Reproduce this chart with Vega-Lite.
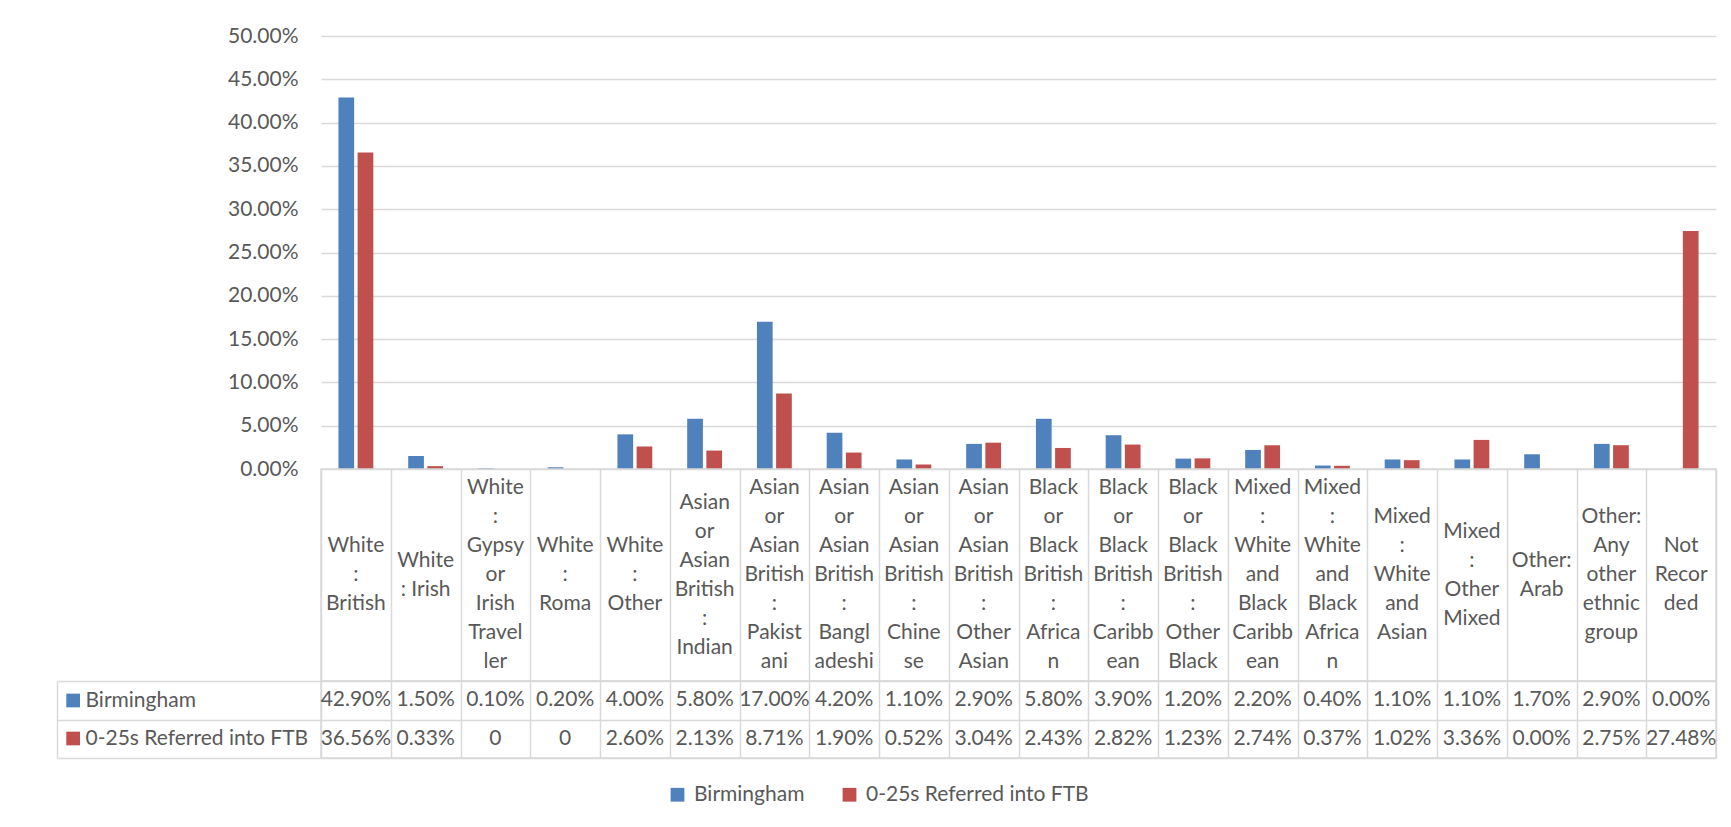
{
  "$schema": "https://vega.github.io/schema/vega-lite/v6.json",
  "bounds": "flush",
  "spacing": 0,
  "padding": {"left": 55, "top": 25, "right": 5, "bottom": 5},
  "config": {
    "font": "Lato",
    "view": {"stroke": null},
    "axis": {"labelFont": "Lato", "labelColor": "#595959", "labelFontSize": 21}
  },
  "datasets": {
    "cats": [
      {"cat": "White: British", "lines": "White|:|British"},
      {"cat": "White: Irish", "lines": "White|: Irish"},
      {"cat": "White: Gypsy or Irish Traveller", "lines": "White|:|Gypsy|or|Irish|Travel|ler"},
      {"cat": "White: Roma", "lines": "White|:|Roma"},
      {"cat": "White: Other", "lines": "White|:|Other"},
      {"cat": "Asian or Asian British: Indian", "lines": "Asian|or|Asian|British|:|Indian"},
      {"cat": "Asian or Asian British: Pakistani", "lines": "Asian|or|Asian|British|:|Pakist|ani"},
      {"cat": "Asian or Asian British: Bangladeshi", "lines": "Asian|or|Asian|British|:|Bangl|adeshi"},
      {"cat": "Asian or Asian British: Chinese", "lines": "Asian|or|Asian|British|:|Chine|se"},
      {"cat": "Asian or Asian British: Other Asian", "lines": "Asian|or|Asian|British|:|Other|Asian"},
      {"cat": "Black or Black British: African", "lines": "Black|or|Black|British|:|Africa|n"},
      {"cat": "Black or Black British: Caribbean", "lines": "Black|or|Black|British|:|Caribb|ean"},
      {"cat": "Black or Black British: Other Black", "lines": "Black|or|Black|British|:|Other|Black"},
      {"cat": "Mixed: White and Black Caribbean", "lines": "Mixed|:|White|and|Black|Caribb|ean"},
      {"cat": "Mixed: White and Black African", "lines": "Mixed|:|White|and|Black|Africa|n"},
      {"cat": "Mixed: White and Asian", "lines": "Mixed|:|White|and|Asian"},
      {"cat": "Mixed: Other Mixed", "lines": "Mixed|:|Other|Mixed"},
      {"cat": "Other: Arab", "lines": "Other:|Arab"},
      {"cat": "Other: Any other ethnic group", "lines": "Other:|Any|other|ethnic|group"},
      {"cat": "Not Recorded", "lines": "Not|Recor|ded"}
    ],
    "vals": [
      {"cat": "White: British", "series": "Birmingham", "value": 0.429, "shown": "42.90%"},
      {"cat": "White: British", "series": "0-25s Referred into FTB", "value": 0.3656, "shown": "36.56%"},
      {"cat": "White: Irish", "series": "Birmingham", "value": 0.015, "shown": "1.50%"},
      {"cat": "White: Irish", "series": "0-25s Referred into FTB", "value": 0.0033, "shown": "0.33%"},
      {"cat": "White: Gypsy or Irish Traveller", "series": "Birmingham", "value": 0.001, "shown": "0.10%"},
      {"cat": "White: Gypsy or Irish Traveller", "series": "0-25s Referred into FTB", "value": 0, "shown": "0"},
      {"cat": "White: Roma", "series": "Birmingham", "value": 0.002, "shown": "0.20%"},
      {"cat": "White: Roma", "series": "0-25s Referred into FTB", "value": 0, "shown": "0"},
      {"cat": "White: Other", "series": "Birmingham", "value": 0.04, "shown": "4.00%"},
      {"cat": "White: Other", "series": "0-25s Referred into FTB", "value": 0.026, "shown": "2.60%"},
      {"cat": "Asian or Asian British: Indian", "series": "Birmingham", "value": 0.058, "shown": "5.80%"},
      {"cat": "Asian or Asian British: Indian", "series": "0-25s Referred into FTB", "value": 0.0213, "shown": "2.13%"},
      {"cat": "Asian or Asian British: Pakistani", "series": "Birmingham", "value": 0.17, "shown": "17.00%"},
      {"cat": "Asian or Asian British: Pakistani", "series": "0-25s Referred into FTB", "value": 0.0871, "shown": "8.71%"},
      {"cat": "Asian or Asian British: Bangladeshi", "series": "Birmingham", "value": 0.042, "shown": "4.20%"},
      {"cat": "Asian or Asian British: Bangladeshi", "series": "0-25s Referred into FTB", "value": 0.019, "shown": "1.90%"},
      {"cat": "Asian or Asian British: Chinese", "series": "Birmingham", "value": 0.011, "shown": "1.10%"},
      {"cat": "Asian or Asian British: Chinese", "series": "0-25s Referred into FTB", "value": 0.0052, "shown": "0.52%"},
      {"cat": "Asian or Asian British: Other Asian", "series": "Birmingham", "value": 0.029, "shown": "2.90%"},
      {"cat": "Asian or Asian British: Other Asian", "series": "0-25s Referred into FTB", "value": 0.0304, "shown": "3.04%"},
      {"cat": "Black or Black British: African", "series": "Birmingham", "value": 0.058, "shown": "5.80%"},
      {"cat": "Black or Black British: African", "series": "0-25s Referred into FTB", "value": 0.0243, "shown": "2.43%"},
      {"cat": "Black or Black British: Caribbean", "series": "Birmingham", "value": 0.039, "shown": "3.90%"},
      {"cat": "Black or Black British: Caribbean", "series": "0-25s Referred into FTB", "value": 0.0282, "shown": "2.82%"},
      {"cat": "Black or Black British: Other Black", "series": "Birmingham", "value": 0.012, "shown": "1.20%"},
      {"cat": "Black or Black British: Other Black", "series": "0-25s Referred into FTB", "value": 0.0123, "shown": "1.23%"},
      {"cat": "Mixed: White and Black Caribbean", "series": "Birmingham", "value": 0.022, "shown": "2.20%"},
      {"cat": "Mixed: White and Black Caribbean", "series": "0-25s Referred into FTB", "value": 0.0274, "shown": "2.74%"},
      {"cat": "Mixed: White and Black African", "series": "Birmingham", "value": 0.004, "shown": "0.40%"},
      {"cat": "Mixed: White and Black African", "series": "0-25s Referred into FTB", "value": 0.0037, "shown": "0.37%"},
      {"cat": "Mixed: White and Asian", "series": "Birmingham", "value": 0.011, "shown": "1.10%"},
      {"cat": "Mixed: White and Asian", "series": "0-25s Referred into FTB", "value": 0.0102, "shown": "1.02%"},
      {"cat": "Mixed: Other Mixed", "series": "Birmingham", "value": 0.011, "shown": "1.10%"},
      {"cat": "Mixed: Other Mixed", "series": "0-25s Referred into FTB", "value": 0.0336, "shown": "3.36%"},
      {"cat": "Other: Arab", "series": "Birmingham", "value": 0.017, "shown": "1.70%"},
      {"cat": "Other: Arab", "series": "0-25s Referred into FTB", "value": 0, "shown": "0.00%"},
      {"cat": "Other: Any other ethnic group", "series": "Birmingham", "value": 0.029, "shown": "2.90%"},
      {"cat": "Other: Any other ethnic group", "series": "0-25s Referred into FTB", "value": 0.0275, "shown": "2.75%"},
      {"cat": "Not Recorded", "series": "Birmingham", "value": 0, "shown": "0.00%"},
      {"cat": "Not Recorded", "series": "0-25s Referred into FTB", "value": 0.2748, "shown": "27.48%"}
    ]
  },
  "resolve": {"scale": {"x": "independent", "y": "independent"}},
  "vconcat": [
    {
      "width": 1395,
      "height": 433,
      "data": {"name": "vals"},
      "mark": {"type": "bar"},
      "encoding": {
        "x": {"field": "cat", "type": "nominal", "sort": null, "scale": {"paddingInner": 0.5, "paddingOuter": 0.25}, "axis": null},
        "xOffset": {"field": "series", "type": "nominal", "scale": {"domain": ["Birmingham", "0-25s Referred into FTB"], "paddingInner": 0.18}},
        "y": {
          "field": "value", "type": "quantitative",
          "scale": {"domain": [0, 0.5]},
          "axis": {"values": [0, 0.05, 0.1, 0.15, 0.2, 0.25, 0.3, 0.35, 0.4, 0.45, 0.5], "format": ".2%", "title": null, "domain": false, "ticks": false, "labelPadding": 23, "gridColor": "#D9D9D9", "gridWidth": 1.5}
        },
        "color": {
          "field": "series", "type": "nominal",
          "scale": {"domain": ["Birmingham", "0-25s Referred into FTB"], "range": ["#4F81BD", "#C0504D"]},
          "legend": {"title": null, "orient": "none", "legendX": 346, "legendY": 748, "direction": "horizontal", "symbolType": "square", "symbolSize": 190, "symbolStrokeWidth": 0, "labelFont": "Lato", "labelFontSize": 21, "labelColor": "#595959", "labelOffset": 6, "columnPadding": 34, "labelLimit": 0}
        }
      }
    },
    {
      "width": 1395,
      "height": 212,
      "data": {"name": "cats"},
      "view": {"stroke": "#D9D9D9", "strokeWidth": 1.5},
      "mark": {"type": "text", "lineBreak": "|", "lineHeight": 29, "fontSize": 21, "font": "Lato", "color": "#595959", "baseline": "middle", "align": "center",
               "dy": {"expr": "-(length(split(datum.lines, '|')) - 1) * 14.5"}},
      "encoding": {
        "x": {"field": "cat", "type": "nominal", "sort": null, "scale": {"paddingInner": 0, "paddingOuter": 0},
              "axis": {"title": null, "labels": false, "ticks": false, "domain": false, "grid": true, "tickBand": "extent", "gridColor": "#D9D9D9", "gridWidth": 1.5}},
        "text": {"field": "lines"}
      }
    },
    {
      "width": 1395,
      "height": 77,
      "data": {"name": "vals"},
      "view": {"stroke": "#D9D9D9", "strokeWidth": 1.5},
      "encoding": {
        "x": {"field": "cat", "type": "nominal", "sort": null, "scale": {"paddingInner": 0, "paddingOuter": 0},
              "axis": {"title": null, "labels": false, "ticks": false, "domain": false, "grid": true, "tickBand": "extent", "gridColor": "#D9D9D9", "gridWidth": 1.5}},
        "text": {"field": "shown"}
      },
      "layer": [
        {
          "mark": {"type": "text", "fontSize": 21, "font": "Lato", "color": "#595959", "baseline": "middle", "align": "center"},
          "encoding": {
            "y": {"field": "series", "type": "nominal", "scale": {"domain": ["Birmingham", "0-25s Referred into FTB"], "paddingInner": 0, "paddingOuter": 0},
                  "axis": {"orient": "left", "title": null, "domain": false, "ticks": true, "tickBand": "extent", "tickSize": 264, "tickColor": "#D9D9D9", "tickWidth": 1.5, "grid": true, "gridColor": "#D9D9D9", "gridWidth": 1.5, "labelAlign": "left", "labelBaseline": "middle", "labelPadding": -28, "labelLimit": 0}}
          }
        },
        {
          "mark": {"type": "text", "opacity": 0},
          "encoding": {
            "y": {"field": "series", "type": "nominal", "scale": {"domain": ["Birmingham", "0-25s Referred into FTB"], "paddingInner": 0, "paddingOuter": 0},
                  "axis": {"orient": "left", "title": null, "domain": false, "labels": false, "grid": false, "offset": 241.5, "ticks": true, "tickSize": 13.7, "tickWidth": 13.7,
                           "tickColor": {"condition": {"test": "datum.value === 'Birmingham'", "value": "#4F81BD"}, "value": "#C0504D"}}}
          }
        },
        {
          "mark": {"type": "text", "opacity": 0},
          "encoding": {
            "y": {"field": "series", "type": "nominal", "scale": {"domain": ["Birmingham", "0-25s Referred into FTB"], "paddingInner": 0, "paddingOuter": 0},
                  "axis": {"orient": "left", "title": null, "domain": true, "domainColor": "#D9D9D9", "domainWidth": 1.5, "labels": false, "grid": false, "ticks": false, "offset": 264}}
          }
        }
      ],
      "resolve": {"axis": {"y": "independent"}}
    }
  ]
}
